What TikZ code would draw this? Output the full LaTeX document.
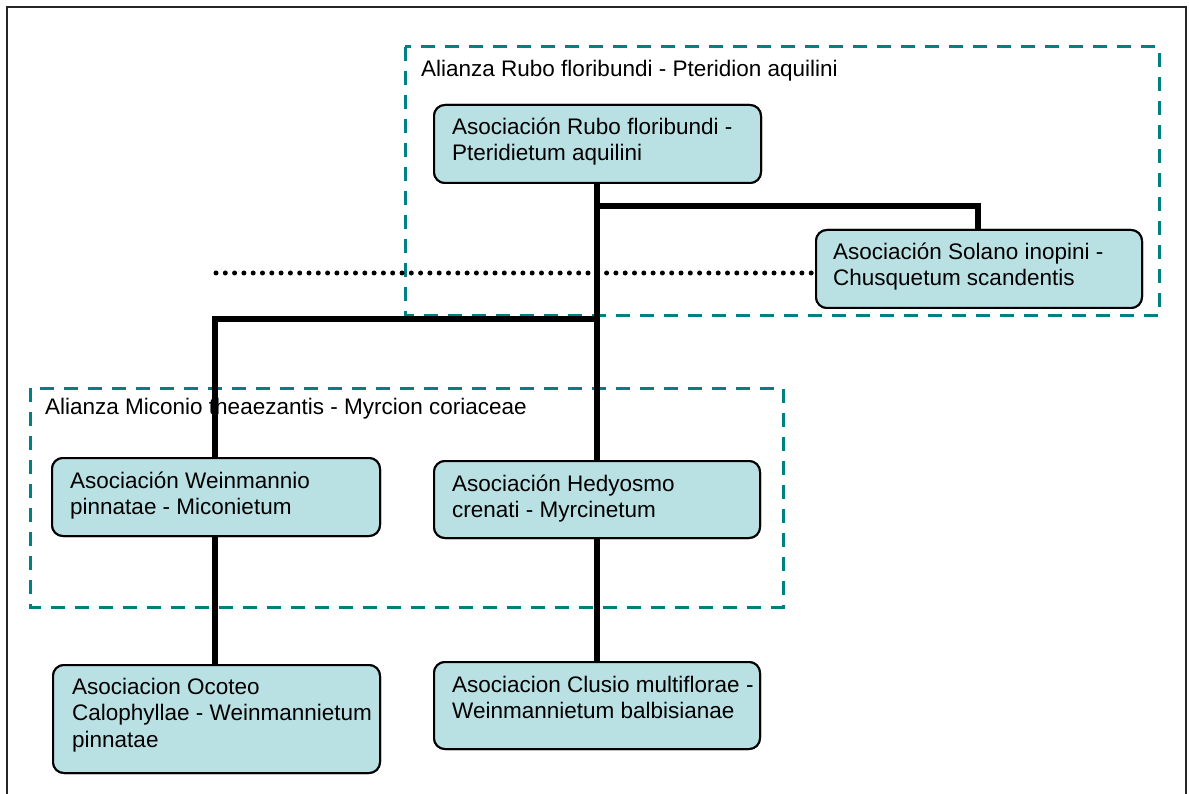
\documentclass[tikz,border=0pt]{standalone}
\usepackage{fontspec}
\setmainfont{Liberation Sans}
\definecolor{boxfill}{HTML}{B9E0E3}
\definecolor{teal2}{HTML}{008080}
\tikzset{
  assoc/.style={draw=black, line width=2pt, rounded corners=11pt, fill=boxfill, inner sep=0pt},
  lbl/.style={anchor=north west, inner sep=0pt, align=left, font=\fontsize{22.5}{26.5}\selectfont},
  alliance/.style={draw=teal2, line width=3pt, dash pattern=on 14pt off 10pt},
  conn/.style={line width=5.5pt},
  dotline/.style={line width=5pt, line cap=round, dash pattern=on 0pt off 9.3pt},
}
\begin{document}
\begin{tikzpicture}[x=1pt,y=-1pt]
\useasboundingbox (0,0) rectangle (1189,794);
% outer frame (bottom clipped)
\draw[line width=2pt, black!85] (7,800) -- (7,7) -- (1186,7) -- (1186,800);

% alliance boxes
\draw[alliance] (405,47) rectangle (1159,316);
\draw[alliance] (30,388) rectangle (783,607);
\node[lbl] (al1) at (421,77-19.5) {\strut Alianza Rubo floribundi - Pteridion aquilini};
\node[lbl] (al2) at (45,415-19.5) {\strut Alianza Miconio theaezantis - Myrcion coriaceae};

% association boxes
\node[assoc, minimum width=327pt, minimum height=78pt, anchor=north west] (rubo) at (433,104) {};
\node[assoc, minimum width=326pt, minimum height=78pt, anchor=north west] (solano) at (815,229) {};
\node[assoc, minimum width=328pt, minimum height=78pt, anchor=north west] (wein) at (51,457) {};
\node[assoc, minimum width=326pt, minimum height=77pt, anchor=north west] (hedy) at (433,460) {};
\node[assoc, minimum width=327pt, minimum height=108pt, anchor=north west] (ocot) at (52,664) {};
\node[assoc, minimum width=326pt, minimum height=87pt, anchor=north west] (clus) at (433,661) {};

% connectors
\coordinate (j1) at (597,206);
\coordinate (j2) at (597,319);
\coordinate (dl) at (216,273);
\draw[conn] (rubo.south -| j1) -- (hedy.north -| j1);
\draw[conn] (j1) -| (solano.north -| 978,0);
\draw[conn] (j2) -| (wein.north -| 215,0);
\draw[conn] (wein.south -| 215,0) -- (ocot.north -| 215,0);
\draw[conn] (hedy.south -| j1) -- (clus.north -| j1);
\draw[dotline] (dl) -- (solano.west |- dl);

% redraw boxes on top of connectors
\node[assoc, minimum width=327pt, minimum height=78pt, anchor=north west] at (433,104) {};
\node[assoc, minimum width=326pt, minimum height=78pt, anchor=north west] at (815,229) {};
\node[assoc, minimum width=328pt, minimum height=78pt, anchor=north west] at (51,457) {};
\node[assoc, minimum width=326pt, minimum height=77pt, anchor=north west] at (433,460) {};
\node[assoc, minimum width=327pt, minimum height=108pt, anchor=north west] at (52,664) {};
\node[assoc, minimum width=326pt, minimum height=87pt, anchor=north west] at (433,661) {};

% texts
\node[lbl] (t1) at (452,135-19.5) {\strut Asociación Rubo floribundi -\\Pteridietum aquilini};
\node[lbl] (t2) at (833,260-19.5) {\strut Asociación Solano inopini -\\Chusquetum scandentis};
\node[lbl] (t3) at (70,489-19.5) {\strut Asociación Weinmannio\\pinnatae - Miconietum};
\node[lbl] (t4) at (452,492-19.5) {\strut Asociación Hedyosmo\\crenati - Myrcinetum};
\node[lbl] (t5) at (72,695-19.5) {\strut Asociacion Ocoteo\\Calophyllae - Weinmannietum\\pinnatae};
\node[lbl] (t6) at (452,693-19.5) {\strut Asociacion Clusio multiflorae -\\Weinmannietum balbisianae};
\end{tikzpicture}
\end{document}
